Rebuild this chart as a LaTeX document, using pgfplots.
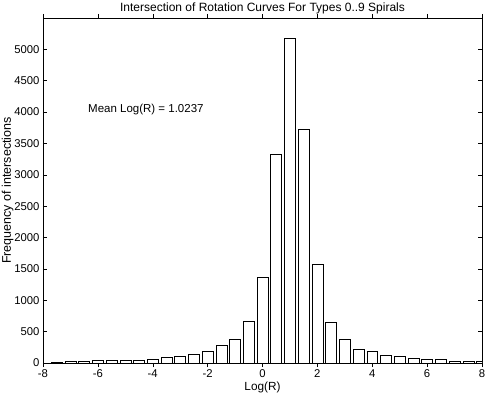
\documentclass[border=0pt]{standalone}
\usepackage{fontspec}
\setmainfont{Liberation Sans}
\usepackage{pgfplots}
\pgfplotsset{compat=1.18}

% histogram counts, bin centres every 0.5
\pgfplotstableread{
x     n
-7.5  18
-7.0  30
-6.5  35
-6.0  36
-5.5  38
-5.0  40
-4.5  42
-4.0  58
-3.5  91
-3.0  101
-2.5  138
-2.0  186
-1.5  277
-1.0  378
-0.5  666
0.0   1360
0.5   3325
1.0   5185
1.5   3720
2.0   1580
2.5   650
3.0   373
3.5   224
4.0   186
4.5   122
5.0   112
5.5   70
6.0   55
6.5   64
7.0   34
7.5   27
8.0   21
}\hist

\begin{document}
\begin{tikzpicture}
\begin{axis}[
  name=ax,
  scale only axis,
  width=439bp,
  height=345bp,
  xmin=-8, xmax=8,
  ymin=0, ymax=5500,
  xtick={-8,-6,...,8},
  ytick={0,500,...,5000},
  tick align=inside,
  major tick length=4bp,
  tick style={black, line width=0.5bp},
  axis line style={line width=0.5bp},
  /pgf/number format/assume math mode=true,
  /pgf/number format/1000 sep={},
  tick label style={font=\fontsize{11.3bp}{13bp}\selectfont},
  label style={font=\fontsize{11.8bp}{14bp}\selectfont},
  title style={font=\fontsize{12bp}{14bp}\selectfont, yshift=-5bp},
  title={Intersection of Rotation Curves For Types 0..9 Spirals},
  xlabel={Log(R)},
  ylabel={Frequency of intersections},
  xlabel style={yshift=2bp},
  ylabel style={yshift=-6bp, font=\fontsize{12.5bp}{14bp}\selectfont},
  xticklabel style={yshift=1bp},
  ybar,
  bar width=0.4,
]
\addplot[draw=black, fill=white, line width=0.5bp] table[x=x, y=n] {\hist};
\node[anchor=west, inner sep=0pt, font=\fontsize{11.5bp}{14bp}\selectfont] at (axis cs:-6.36,4040) {Mean Log(R) = 1.0237};
\end{axis}
\pgfresetboundingbox
\path[use as bounding box] ([xshift=-43bp,yshift=-33bp]ax.south west) rectangle ([xshift=3bp,yshift=18bp]ax.north east);
\end{tikzpicture}
\end{document}
